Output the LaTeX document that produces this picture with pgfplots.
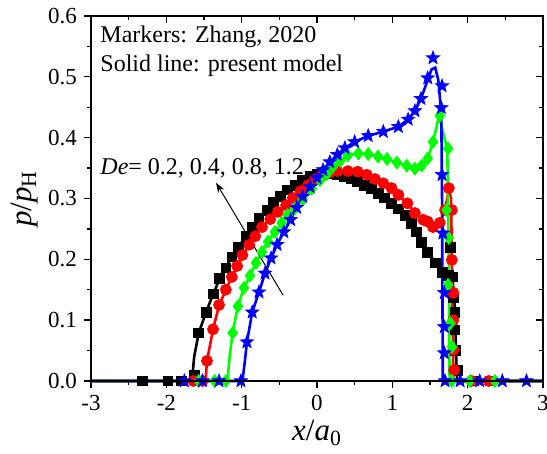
\documentclass[border=0pt]{standalone}
\usepackage{pgfplots}
\pgfplotsset{compat=1.18}
\usepackage{fontspec}
\setmainfont{Liberation Serif}
\usetikzlibrary{arrows.meta}

\definecolor{deA}{RGB}{0,0,0}
\definecolor{deB}{RGB}{255,0,0}
\definecolor{deC}{RGB}{0,255,0}
\definecolor{deD}{RGB}{0,0,255}

% filled five-pointed star
\pgfdeclareplotmark{fstar}{%
  \pgfpathmoveto{\pgfpointpolar{90}{\pgfplotmarksize}}%
  \pgfpathlineto{\pgfpointpolar{126}{0.42\pgfplotmarksize}}%
  \pgfpathlineto{\pgfpointpolar{162}{\pgfplotmarksize}}%
  \pgfpathlineto{\pgfpointpolar{198}{0.42\pgfplotmarksize}}%
  \pgfpathlineto{\pgfpointpolar{234}{\pgfplotmarksize}}%
  \pgfpathlineto{\pgfpointpolar{270}{0.42\pgfplotmarksize}}%
  \pgfpathlineto{\pgfpointpolar{306}{\pgfplotmarksize}}%
  \pgfpathlineto{\pgfpointpolar{342}{0.42\pgfplotmarksize}}%
  \pgfpathlineto{\pgfpointpolar{18}{\pgfplotmarksize}}%
  \pgfpathlineto{\pgfpointpolar{54}{0.42\pgfplotmarksize}}%
  \pgfpathclose
  \pgfusepathqfillstroke}

\pgfplotsset{
  frame/.style={
    scale only axis, width=226pt, height=182.5pt,
    xmin=-3, xmax=3, ymin=0, ymax=0.6,
    xtick={-3,-2,-1,0,1,2,3},
    ytick={0,0.1,0.2,0.3,0.4,0.5,0.6},
    minor x tick num=1, minor y tick num=1,
    major tick length=3.5pt, minor tick length=2pt,
    axis line style={line width=0.65pt},
    every tick/.style={line width=0.65pt, black},
  },
  model/.style={no marks, line width=1.3pt},
}

\begin{document}
\begin{tikzpicture}
\begin{axis}[frame, name=ax,
  clip=false,
  tick align=outside,
  xtick pos=left, ytick pos=left,
  /pgf/number format/assume math mode=true,
  xticklabel={\pgfmathprintnumber{\tick}},
  yticklabel={\pgfmathprintnumber[fixed, fixed zerofill, precision=1]{\tick}},
  ticklabel style={font=\fontsize{11.5}{13}\selectfont},
  xlabel={\textit{x}/\textit{a}\textsubscript{0}},
  ylabel={\textit{p}/\textit{p}\textsubscript{H}},
  label style={font=\fontsize{15.5}{18}\selectfont},
  xlabel style={yshift=2pt},
  ylabel style={yshift=-2pt},
]

% De = 0.2
\addplot[only marks, mark=square*, mark size=2.45pt, draw=deA, fill=deA] coordinates {
(-2.32,0) (-1.98,0) (-1.80,0) (-1.63,0.01) (-1.57,0.079) (-1.47,0.113) (-1.38,0.143)
(-1.30,0.169) (-1.21,0.186) (-1.13,0.204) (-1.04,0.220) (-0.94,0.238) (-0.86,0.252)
(-0.77,0.268) (-0.66,0.281) (-0.58,0.293) (-0.49,0.303) (-0.39,0.314) (-0.29,0.322)
(-0.20,0.330) (-0.09,0.337) (0.00,0.340) (0.09,0.342) (0.18,0.341) (0.27,0.339)
(0.36,0.336) (0.45,0.333) (0.54,0.328) (0.63,0.322) (0.72,0.316) (0.81,0.309)
(0.90,0.301) (0.99,0.292) (1.08,0.283) (1.17,0.272) (1.25,0.259) (1.32,0.245)
(1.39,0.228) (1.47,0.212) (1.57,0.194) (1.66,0.178) (1.74,0.173) (1.80,0.171)
(1.77,0.219) (1.81,0.138) (1.83,0.113) (1.83,0.084) (1.84,0.050) (1.86,0.018)
(2.08,0) (2.30,0)};
\addplot[model, color=deA] coordinates {
(-3,0) (-1.66,0) (-1.63,0.04) (-1.57,0.079) (-1.47,0.114) (-1.38,0.142) (-1.30,0.166)
(-1.21,0.187) (-1.13,0.204) (-1.04,0.221) (-0.94,0.238) (-0.86,0.252) (-0.77,0.267)
(-0.66,0.281) (-0.58,0.292) (-0.49,0.303) (-0.39,0.313) (-0.29,0.322) (-0.20,0.330)
(-0.09,0.336) (0,0.340) (0.09,0.342) (0.18,0.341) (0.27,0.339) (0.36,0.336)
(0.45,0.333) (0.54,0.328) (0.63,0.322) (0.72,0.316) (0.81,0.309) (0.90,0.301)
(0.99,0.292) (1.08,0.283) (1.17,0.272) (1.25,0.259) (1.32,0.245) (1.39,0.228)
(1.47,0.212) (1.57,0.195) (1.66,0.180) (1.74,0.172) (1.80,0.168) (1.83,0.12)
(1.85,0.03) (1.86,0) (3,0)};

% De = 0.4
\addplot[only marks, mark=*, mark size=2.75pt, draw=deB, fill=deB] coordinates {
(-1.64,0) (-1.52,0) (-1.46,0.033) (-1.38,0.085) (-1.30,0.125) (-1.21,0.150)
(-1.13,0.171) (-1.06,0.189) (-0.99,0.207) (-0.90,0.224) (-0.82,0.238) (-0.73,0.253)
(-0.62,0.266) (-0.52,0.278) (-0.41,0.289) (-0.32,0.301) (-0.22,0.312) (-0.12,0.322)
(-0.03,0.331) (0.07,0.338) (0.17,0.343) (0.27,0.345) (0.41,0.345) (0.54,0.344)
(0.66,0.339) (0.77,0.332) (0.88,0.325) (0.99,0.317) (1.08,0.306) (1.20,0.292)
(1.30,0.276) (1.41,0.265) (1.47,0.262) (1.54,0.253) (1.63,0.260) (1.70,0.281)
(1.75,0.317) (1.79,0.281) (1.79,0.199) (1.81,0.145) (1.81,0.100) (1.81,0.051)
(1.82,0.018) (2.05,0) (2.28,0)};
\addplot[model, color=deB] coordinates {
(-3,0) (-1.48,0) (-1.46,0.033) (-1.38,0.085) (-1.30,0.124) (-1.21,0.150) (-1.13,0.171)
(-1.06,0.189) (-0.99,0.206) (-0.90,0.224) (-0.82,0.238) (-0.73,0.253) (-0.62,0.266)
(-0.52,0.278) (-0.41,0.290) (-0.32,0.301) (-0.22,0.312) (-0.12,0.322) (-0.03,0.331)
(0.07,0.338) (0.17,0.343) (0.27,0.345) (0.41,0.345) (0.54,0.344) (0.66,0.339)
(0.77,0.332) (0.88,0.325) (0.99,0.317) (1.08,0.306) (1.20,0.292) (1.30,0.277)
(1.41,0.265) (1.47,0.261) (1.54,0.254) (1.63,0.260) (1.70,0.280) (1.75,0.316)
(1.78,0.30) (1.80,0.10) (1.81,0) (3,0)};

% De = 0.8
\addplot[only marks, mark=diamond*, mark size=3.2pt, draw=deC, fill=deC] coordinates {
(-1.57,0) (-1.36,0) (-1.21,0) (-1.12,0.079) (-1.05,0.123) (-0.97,0.153) (-0.89,0.173)
(-0.81,0.194) (-0.73,0.212) (-0.65,0.229) (-0.56,0.245) (-0.47,0.260) (-0.39,0.273)
(-0.29,0.284) (-0.19,0.298) (-0.07,0.316) (0.04,0.330) (0.13,0.340) (0.21,0.352)
(0.31,0.362) (0.41,0.371) (0.55,0.374) (0.68,0.373) (0.81,0.369) (0.93,0.365)
(1.06,0.359) (1.19,0.354) (1.30,0.349) (1.39,0.354) (1.47,0.366) (1.54,0.393)
(1.63,0.436) (1.74,0.382) (1.72,0.281) (1.75,0.235) (1.74,0.158) (1.77,0.095)
(1.79,0.056) (1.79,0) (2.03,0) (2.36,0)};
\addplot[model, color=deC] coordinates {
(-3,0) (-1.19,0) (-1.16,0.04) (-1.12,0.079) (-1.05,0.123) (-0.97,0.153) (-0.89,0.173)
(-0.81,0.194) (-0.73,0.212) (-0.65,0.229) (-0.56,0.245) (-0.47,0.260) (-0.39,0.273)
(-0.29,0.285) (-0.19,0.298) (-0.07,0.315) (0.04,0.330) (0.13,0.340) (0.21,0.352)
(0.31,0.362) (0.41,0.371) (0.55,0.374) (0.68,0.373) (0.81,0.369) (0.93,0.365)
(1.06,0.359) (1.19,0.354) (1.30,0.349) (1.39,0.354) (1.47,0.366) (1.54,0.392)
(1.62,0.436) (1.73,0.38) (1.75,0.2) (1.76,0) (3,0)};

% De = 1.2
\addplot[only marks, mark=fstar, mark size=3.4pt, draw=deD, fill=deD] coordinates {
(-1.76,0) (-1.52,0) (-1.30,0) (-1.01,0) (-0.93,0.064) (-0.86,0.113) (-0.77,0.146)
(-0.69,0.177) (-0.61,0.202) (-0.53,0.224) (-0.44,0.245) (-0.35,0.265) (-0.27,0.285)
(-0.19,0.303) (-0.09,0.319) (0,0.334) (0.08,0.347) (0.17,0.360) (0.27,0.372)
(0.37,0.383) (0.50,0.393) (0.68,0.403) (0.88,0.410) (1.08,0.418) (1.21,0.430)
(1.30,0.444) (1.38,0.464) (1.47,0.498) (1.54,0.531) (1.66,0.485) (1.65,0.449)
(1.66,0.339) (1.67,0.243) (1.69,0.145) (1.69,0.089) (1.69,0.046) (1.70,0)
(1.90,0) (2.16,0) (2.46,0) (2.78,0)};
\addplot[model, color=deD] coordinates {
(-3,0) (-0.99,0) (-0.96,0.03) (-0.93,0.064) (-0.86,0.113) (-0.77,0.146) (-0.69,0.177)
(-0.61,0.202) (-0.53,0.224) (-0.44,0.245) (-0.35,0.265) (-0.27,0.285) (-0.19,0.303)
(-0.09,0.319) (0,0.334) (0.08,0.347) (0.17,0.360) (0.27,0.372) (0.37,0.383)
(0.50,0.393) (0.68,0.403) (0.88,0.410) (1.08,0.418) (1.21,0.430) (1.30,0.444)
(1.38,0.464) (1.47,0.495) (1.52,0.512) (1.57,0.515) (1.61,0.495) (1.65,0.44)
(1.66,0.3) (1.67,0) (3,0)};

% annotations
\node[anchor=base west, font=\fontsize{12}{14}\selectfont, inner sep=0pt] at (axis cs:-2.88,0.556) {Markers: Zhang, 2020};
\node[anchor=base west, font=\fontsize{12}{14}\selectfont, inner sep=0pt] at (axis cs:-2.88,0.508) {Solid line: present model};
\node[anchor=base west, font=\fontsize{12}{14}\selectfont, inner sep=0pt] at (axis cs:-2.88,0.339) {\textit{De}= 0.2, 0.4, 0.8, 1.2};
\draw[line width=0.5pt, -{Stealth[length=5pt, width=3.5pt]}] (axis cs:-0.45,0.141) -- (axis cs:-1.34,0.326);
\end{axis}

% mirrored inward ticks on the top and right edges
\begin{axis}[frame,
  tick align=inside,
  xtick pos=right, ytick pos=right,
  xticklabels={}, yticklabels={},
]
\end{axis}

\pgfresetboundingbox
\path ([shift={(-45.5pt,-36.5pt)}]ax.south west) rectangle ([shift={(2pt,8pt)}]ax.north east);
\end{tikzpicture}
\end{document}
